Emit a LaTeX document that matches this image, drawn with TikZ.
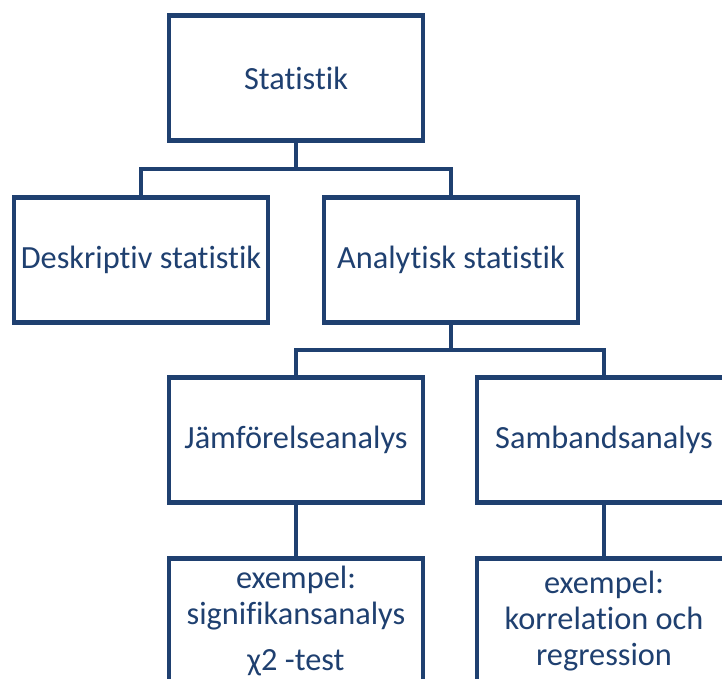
\documentclass[tikz,border=0pt]{standalone}
\usepackage{fontspec}
\setmainfont{Carlito}[Ligatures=NoCommon]
\usepackage{tikz}
\usetikzlibrary{calc,positioning}
\definecolor{navy}{HTML}{1F4070}
\tikzset{
    block/.style = {draw=navy, rectangle, line width=0.085cm,
        minimum height=2.5cm,
        minimum width=5.08cm, align=center, text=navy,
        font=\fontsize{18.4}{20.4}\selectfont},
    tree/.style = {draw=navy, line width=0.085cm}
}

\begin{document}
\begin{tikzpicture}[node distance=3.62cm]
        \useasboundingbox (0,0) rectangle (14.44,-13.58);
        \node [block, name=stat] at (5.92,-1.56) {Statistik};
        \node [block, name=desk] at ($(stat)+(-3.1,-3.64)$) {Deskriptiv statistik};
        \node [block, name=anal] at ($(stat)+(3.1,-3.64)$) {Analytisk statistik};
        \node [block, name=jamf] at ($(anal)+(-3.1,-3.6)$) {Jämförelseanalys};
        \node [block, name=samb] at ($(anal)+(3.06,-3.6)$) {Sambandsanalys};
        \node [block, below of=jamf, name=sign] {exempel:\\signifikansanalys\\[0.22cm]χ2 -test};
        \node [block, below of=samb, name=korr] {exempel:\\korrelation och\\regression};
        % forks
        \coordinate (fork1) at ($(stat.south)!.5!(stat.south |- desk.north)$);
        \coordinate (fork2) at ($(anal.south)!.5!(anal.south |- jamf.north)$);
        \draw [tree] (stat.south) -- (fork1) -| (desk.north);
        \draw [tree] (fork1) -| (anal.north);
        \draw [tree] (anal.south) -- (fork2) -| (jamf.north);
        \draw [tree] (fork2) -| (samb.north);
        \draw [tree] (jamf) -- (sign);
        \draw [tree] (samb) -- (korr);
\end{tikzpicture}
\end{document}
